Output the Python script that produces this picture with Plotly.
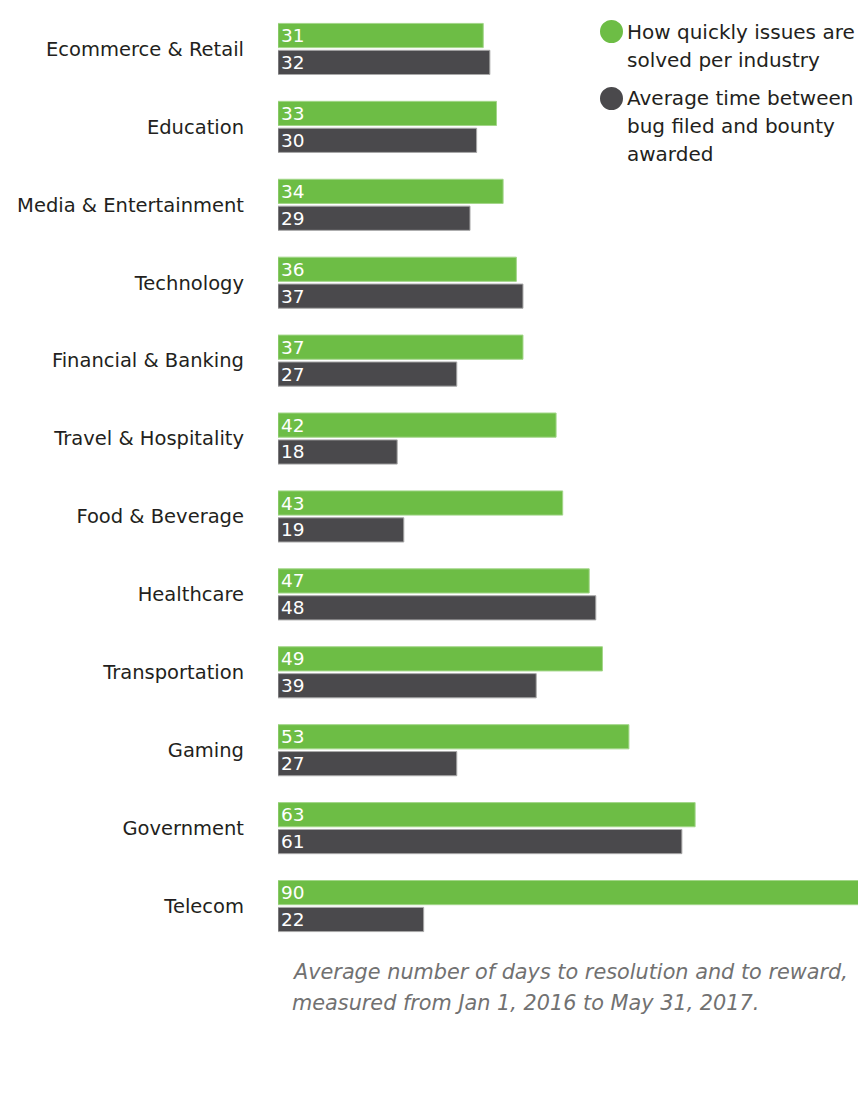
import plotly.graph_objects as go

categories = ["Ecommerce & Retail", "Education", "Media & Entertainment", "Technology",
              "Financial & Banking", "Travel & Hospitality", "Food & Beverage", "Healthcare",
              "Transportation", "Gaming", "Government", "Telecom"]
resolution_days = [31, 33, 34, 36, 37, 42, 43, 47, 49, 53, 63, 90]
bounty_days = [32, 30, 29, 37, 27, 18, 19, 48, 39, 27, 61, 22]

legend_green = ["How quickly issues are", "solved per industry"]
legend_dark = ["Average time between", "bug filed and bounty", "awarded"]
caption = ["Average number of days to resolution and to reward,",
           "measured from Jan 1, 2016 to May 31, 2017."]

GREEN = "#6dbd45"
DARK = "#4a494c"

W, H = 858, 1115
ML, MR, MT, MB = 278, 0, 10, 170
PW, PH = W - ML - MR, H - MT - MB


def px_x(x):
    return (x - ML) / PW


def px_y(y):
    return (MT + PH - y) / PH


fig = go.Figure()
for vals, col, edge in [(resolution_days, GREEN, "#a3d689"), (bounty_days, DARK, "#a8a8a8")]:
    fig.add_trace(go.Bar(
        y=categories, x=vals, orientation="h",
        marker=dict(color=col, line=dict(color=edge, width=1)),
        texttemplate="%{x}", textposition="inside", insidetextanchor="start",
        textfont=dict(color="white", size=18.5, family="DejaVu Sans"),
        constraintext="none",
        hoverinfo="skip",
    ))

shapes = []
for cy, col in [(31.5, GREEN), (98.5, DARK)]:
    shapes.append(dict(type="circle", xref="paper", yref="paper",
                       xsizemode="pixel", ysizemode="pixel",
                       xanchor=px_x(611.5), yanchor=px_y(cy),
                       x0=-11.5, x1=11.5, y0=-11.5, y1=11.5,
                       fillcolor=col, line=dict(width=0)))

annotations = []
leg_font = dict(family="DejaVu Sans", size=20, color="#231f20")
for txt, y in zip(legend_green + legend_dark, [32, 60, 98, 126, 154]):
    annotations.append(dict(text=txt, xref="paper", yref="paper", x=px_x(625), y=px_y(y),
                            xanchor="left", yanchor="middle", showarrow=False, font=leg_font))
for txt, y in zip(caption, [972, 1003]):
    annotations.append(dict(text=txt, xref="paper", yref="paper", x=px_x(290), y=px_y(y),
                            xanchor="left", yanchor="middle", showarrow=False,
                            font=dict(family="DejaVu Sans", size=20.8, color="#717171",
                                      style="italic", weight=200)))

fig.update_layout(
    width=W, height=H,
    margin=dict(l=ML, r=MR, t=MT, b=MB),
    paper_bgcolor="white", plot_bgcolor="white",
    barmode="group", bargap=0.31, bargroupgap=0.1,
    showlegend=False,
    shapes=shapes, annotations=annotations,
    xaxis=dict(range=[0, 87.6], visible=False, fixedrange=True),
    yaxis=dict(autorange="reversed", showgrid=False, zeroline=False, showline=False,
               ticks="", ticklabelstandoff=33,
               tickfont=dict(family="DejaVu Sans", size=19.5, color="#231f20")),
)

fig.write_html("out.html")
